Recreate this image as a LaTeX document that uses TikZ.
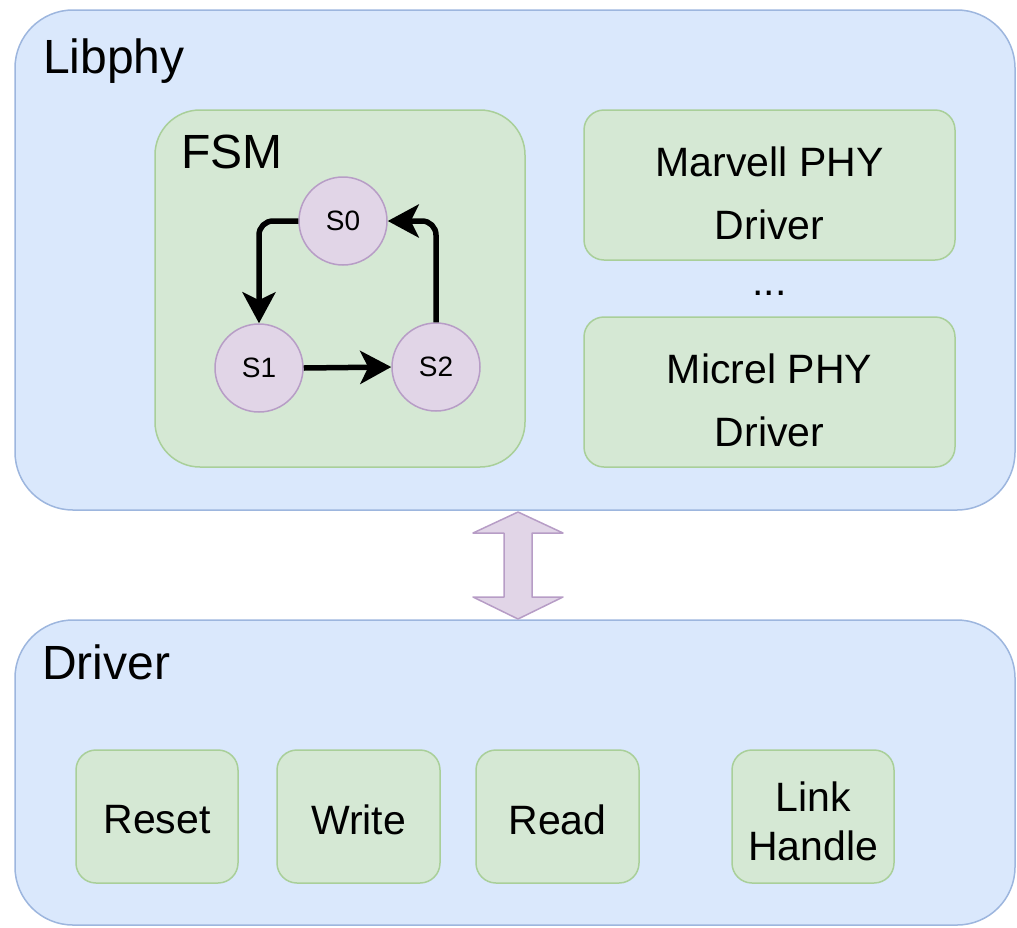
\documentclass[tikz,border=0pt]{standalone}
\usepackage{fontspec}
\setmainfont{Liberation Sans}
\usetikzlibrary{arrows.meta}
\definecolor{bluefill}{HTML}{DAE8FC}
\definecolor{bluedraw}{HTML}{9DB6DE}
\definecolor{greenfill}{HTML}{D5E8D4}
\definecolor{greendraw}{HTML}{A9CF99}
\definecolor{purplefill}{HTML}{E1D5E7}
\definecolor{purpledraw}{HTML}{B79DC6}
\tikzset{
  container/.style={draw=bluedraw, fill=bluefill, line width=1.5pt, rounded corners=58pt, inner sep=0pt},
  greenbox/.style={draw=greendraw, fill=greenfill, line width=1.5pt, inner sep=0pt, align=center,
     font=\fontsize{41}{49}\selectfont},
  boxtext/.style={inner sep=0pt, align=center, font=\fontsize{41}{49}\selectfont},
  statenode/.style={circle, draw=purpledraw, fill=purplefill, line width=1.5pt, minimum size=88pt, inner sep=0pt,
     font=\fontsize{28}{30}\selectfont},
  title/.style={anchor=base west, inner sep=0pt, font=\fontsize{48}{56}\selectfont},
  fsmarrow/.style={line width=5.5pt, rounded corners=14pt, -{Stealth[length=31pt,width=33pt,inset=8pt]}},
}
\begin{document}
\begin{tikzpicture}[x=1pt,y=-1pt]
\useasboundingbox (0,0) rectangle (1017,927);
% containers
\node[container, minimum width=1000pt, minimum height=500pt] (libphy) at (515,260) {};
\node[container, minimum width=1000pt, minimum height=305pt] (driver) at (515,772.5) {};
\node[title] (libphylabel) at (43,73) {Libphy};
\node[title] (driverlabel) at (42,679) {Driver};
% FSM
\node[greenbox, rounded corners=45pt, minimum width=370pt, minimum height=357pt] (fsm) at (340,288.5) {};
\node[title] (fsmlabel) at (181,168) {FSM};
\node[statenode] (s0) at (343,221) {S0};
\node[statenode] (s1) at (259,368) {S1};
\node[statenode] (s2) at (436,367) {S2};
\draw[fsmarrow] (s0.west) -| (s1.north);
\draw[fsmarrow] (s1.east) -- (s2.west);
\draw[fsmarrow] (s2.north) |- (s0.east);
% PHY drivers
\node[greenbox, rounded corners=20pt, minimum width=371pt, minimum height=150pt] (marvell) at (769.5,185) {};
\node[boxtext, font=\fontsize{41}{63}\selectfont] (marvelltext) at ([yshift=-8pt]marvell.center) {Marvell PHY\\Driver};
\node[boxtext] (dots) at (769.5,293) {...};
\node[greenbox, rounded corners=20pt, minimum width=371pt, minimum height=150pt] (micrel) at (769.5,392) {};
\node[boxtext, font=\fontsize{41}{63}\selectfont] (micreltext) at ([yshift=-8pt]micrel.center) {Micrel PHY\\Driver};
% double arrow between Libphy and Driver
\draw[draw=purpledraw, fill=purplefill, line width=1.5pt, line join=round]
  (518,512) -- (563,533) -- (532,533) -- (532,597) -- (563,597) -- (518,619)
  -- (473,597) -- (504,597) -- (504,533) -- (473,533) -- cycle;
% driver functions
\node[greenbox, rounded corners=20pt, minimum width=162pt, minimum height=133pt] (reset) at (157,816.5) {};
\node[boxtext] (resettext) at ([yshift=-3pt]reset.center) {Reset};
\node[greenbox, rounded corners=20pt, minimum width=163pt, minimum height=133pt] (write) at (358.5,816.5) {};
\node[boxtext] (writetext) at ([yshift=-3pt]write.center) {Write};
\node[greenbox, rounded corners=20pt, minimum width=163pt, minimum height=133pt] (read) at (557.5,816.5) {};
\node[boxtext] (readtext) at ([yshift=-3pt]read.center) {Read};
\node[greenbox, rounded corners=20pt, minimum width=162pt, minimum height=133pt] (link) at (813,816.5) {};
\node[boxtext] (linktext) at ([yshift=-5pt]link.center) {Link\\Handle};
\end{tikzpicture}
\end{document}
